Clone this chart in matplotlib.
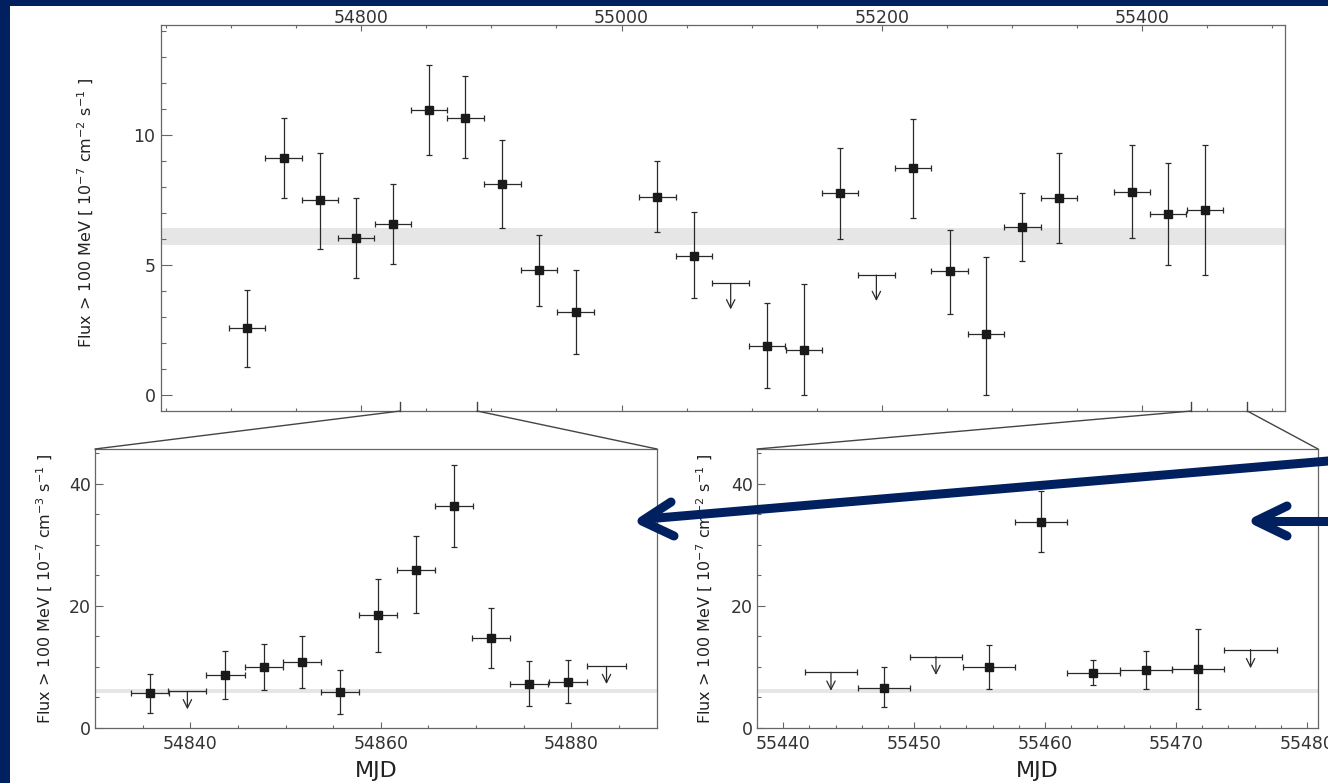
import matplotlib
matplotlib.use("Agg")
import matplotlib.pyplot as plt
from matplotlib.lines import Line2D
from matplotlib.patches import Rectangle, ConnectionPatch
from matplotlib.ticker import MultipleLocator

# ---- data ----
# top panel, 28-day bins (MJD centre, flux, lower / upper end of error bar)
top_mjd = [54712.1, 54740.2, 54768.0, 54796.1, 54824.2, 54851.9, 54880.0, 54908.4,
           54936.5, 54964.7, 55027.6, 55055.9, 55111.8, 55140.1, 55168.0, 55223.9,
           55252.2, 55280.2, 55308.1, 55336.3, 55392.3, 55420.2, 55448.5]
top_flux = [2.58, 9.12, 7.50, 6.06, 6.60, 10.99, 10.68, 8.14, 4.81, 3.22, 7.65, 5.38,
            1.91, 1.76, 7.77, 8.73, 4.78, 2.36, 6.49, 7.60, 7.83, 6.99, 7.14]
top_lo = [1.10, 7.59, 5.64, 4.53, 5.06, 9.26, 9.12, 6.45, 3.44, 1.59, 6.29, 3.73,
          0.27, 0.00, 6.03, 6.83, 3.15, 0.00, 5.17, 5.87, 6.05, 5.03, 4.65]
top_hi = [4.04, 10.67, 9.33, 7.59, 8.14, 12.72, 12.27, 9.81, 6.17, 4.83, 9.03, 7.06,
          3.56, 4.29, 9.50, 10.64, 6.37, 5.31, 7.79, 9.33, 9.62, 8.95, 9.62]
top_ul_mjd = [55083.9, 55195.9]
top_ul_flux = [4.31, 4.63]
top_ul_tip = [3.31, 3.63]

# lower-left panel, 4-day bins
left_mjd = [54835.8, 54843.7, 54847.7, 54851.7, 54855.7, 54859.7, 54863.7, 54867.7,
            54871.6, 54875.6, 54879.7]
left_flux = [5.74, 8.63, 9.94, 10.87, 5.85, 18.52, 25.8, 36.4, 14.7, 7.2, 7.5]
left_lo = [2.4, 4.7, 6.23, 6.5, 2.3, 12.4, 18.8, 29.7, 9.8, 3.6, 4.05]
left_hi = [8.85, 12.62, 13.7, 15.08, 9.5, 24.37, 31.37, 43.1, 19.6, 11.0, 11.15]
left_ul_mjd = [54839.7, 54883.7]
left_ul_flux = [6.01, 10.1]
left_ul_tip = [3.06, 7.2]

# lower-right panel, 4-day bins
right_mjd = [55447.7, 55455.7, 55459.7, 55463.7, 55467.7, 55471.7]
right_flux = [6.6, 9.94, 33.8, 9.07, 9.5, 9.62]
right_lo = [3.39, 6.34, 28.9, 7.0, 6.34, 3.17]
right_hi = [10.05, 13.6, 38.85, 11.15, 12.67, 16.18]
right_ul_mjd = [55443.65, 55451.67, 55475.7]
right_ul_flux = [9.13, 11.69, 12.84]
right_ul_tip = [6.1, 8.69, 9.79]

band = (5.8, 6.45)
zoom_left = (54830, 54889)
zoom_right = (55438, 55481)

NAVY = "#002060"
INK = "#2a2a2a"
SPINE = "#666666"
W, H = 1328, 783

plt.rcParams["font.family"] = ["DejaVu Sans"]
plt.rcParams["mathtext.fontset"] = "dejavusans"

fig = plt.figure(figsize=(W / 100, H / 100), dpi=100, facecolor=NAVY)
fig.add_artist(Rectangle((10 / W, 0), 1, 1 - 6 / H, transform=fig.transFigure,
                         facecolor="white", edgecolor="none", zorder=-1))


def px_axes(l, t, r, b):
    return fig.add_axes([l / W, 1 - b / H, (r - l) / W, (b - t) / H])


def style(ax):
    for s in ax.spines.values():
        s.set_color(SPINE)
        s.set_linewidth(0.9)
    ax.tick_params(which="both", direction="in", colors=SPINE, labelcolor="#333333",
                   labelsize=12.5, width=0.8)


def draw(ax, x, y, lo, hi, hw, ulx, uly, ult):
    ax.errorbar(x, y, xerr=hw,
                yerr=[[a - b for a, b in zip(y, lo)], [b - a for a, b in zip(y, hi)]],
                fmt="s", ms=5.5, mfc="#1a1a1a", mec="#1a1a1a", ecolor=INK,
                elinewidth=0.9, capsize=2.5, capthick=0.9, zorder=3)
    ax.errorbar(ulx, uly, xerr=hw, fmt="none", ecolor=INK, elinewidth=0.9,
                capsize=2.5, capthick=0.9, zorder=3)
    for xx, yy, tt in zip(ulx, uly, ult):
        ax.annotate("", xy=(xx, tt), xytext=(xx, yy),
                    arrowprops=dict(arrowstyle="->,head_length=0.6,head_width=0.3",
                                    color=INK, lw=0.9, shrinkA=0, shrinkB=0))


ylab = "Flux > 100 MeV [ 10$^{-7}$ cm$^{-%d}$ s$^{-1}$ ]"

# ---- top panel ----
ax_t = px_axes(161, 25, 1285, 411)
style(ax_t)
ax_t.axhspan(*band, color="#e6e6e6", lw=0, zorder=1)
draw(ax_t, top_mjd, top_flux, top_lo, top_hi, 14, top_ul_mjd, top_ul_flux, top_ul_tip)
ax_t.set_xlim(54646, 55510)
ax_t.set_ylim(-0.6, 14.25)
ax_t.xaxis.set_major_locator(MultipleLocator(200))
ax_t.xaxis.set_minor_locator(MultipleLocator(50))
ax_t.yaxis.set_major_locator(MultipleLocator(5))
ax_t.yaxis.set_minor_locator(MultipleLocator(1))
ax_t.tick_params(axis="x", which="both", top=True, bottom=True,
                 labeltop=True, labelbottom=False, pad=-1.5)
ax_t.tick_params(axis="x", which="major", length=4.5)
ax_t.tick_params(axis="x", which="minor", length=2.2)
ax_t.tick_params(axis="y", which="major", length=8, pad=4)
ax_t.tick_params(axis="y", which="minor", length=3.5)
ax_t.set_ylabel(ylab % 2, fontsize=11.5, color="#222222")
ax_t.yaxis.set_label_coords(-0.058, 0.512)

# ---- lower panels ----
ax_l = px_axes(95, 449, 657, 728)
ax_r = px_axes(757, 449, 1318, 728)
panels = [
    (ax_l, left_mjd, left_flux, left_lo, left_hi, left_ul_mjd, left_ul_flux,
     left_ul_tip, zoom_left, 20, 5, 3, -0.072),
    (ax_r, right_mjd, right_flux, right_lo, right_hi, right_ul_mjd, right_ul_flux,
     right_ul_tip, zoom_right, 10, 2, 2, -0.074),
]
for ax, x, y, lo, hi, ulx, uly, ult, zr, maj, mnr, cm, lx in panels:
    style(ax)
    ax.axhspan(*band, color="#e6e6e6", lw=0, zorder=1)
    draw(ax, x, y, lo, hi, 2, ulx, uly, ult)
    ax.set_ylim(0, 45.7)
    ax.xaxis.set_major_locator(MultipleLocator(maj))
    ax.xaxis.set_minor_locator(MultipleLocator(mnr))
    ax.yaxis.set_major_locator(MultipleLocator(20))
    ax.yaxis.set_minor_locator(MultipleLocator(5))
    ax.tick_params(axis="x", which="major", length=4.5, pad=5)
    ax.tick_params(axis="x", which="minor", length=2.4)
    ax.tick_params(axis="y", which="major", length=6, pad=3)
    ax.tick_params(axis="y", which="minor", length=3)
    ax.set_xlabel("MJD", fontsize=16, color="#222222", labelpad=6)
    ax.set_ylabel(ylab % cm, fontsize=11.5, color="#222222")
    ax.yaxis.set_label_coords(lx, 0.5)

ax_l.set_xlim(zoom_left[0], 54889)
ax_r.set_xlim(zoom_right[0], 55480.85)

# zoom markers and connector lines
ybot = ax_t.get_ylim()[0]
for zr, ax in [(zoom_left, ax_l), (zoom_right, ax_r)]:
    for xv, corner in zip(zr, [(0, 1), (1, 1)]):
        ax_t.plot([xv, xv], [ybot, ybot + 0.35], color="#444444", lw=1.0,
                  clip_on=False, zorder=4)
        con = ConnectionPatch(xyA=(xv, ybot), coordsA=ax_t.transData,
                              xyB=corner, coordsB=ax.transAxes,
                              color="#444444", lw=1.0)
        fig.add_artist(con)


# ---- navy annotation arrows (pixel coords, top origin) ----
def fig_line(xs, ys):
    fig.add_artist(Line2D([v / W for v in xs], [1 - v / H for v in ys],
                          transform=fig.transFigure, color=NAVY, lw=6.5,
                          solid_capstyle="round", solid_joinstyle="round", zorder=10))


fig_line([1340, 646], [460, 519])
fig_line([671, 642, 674], [502, 521, 536])
fig_line([1340, 1260], [521, 521])
fig_line([1287, 1256, 1287], [506, 521, 536])

fig.savefig("out.png", dpi=100, facecolor=fig.get_facecolor())
